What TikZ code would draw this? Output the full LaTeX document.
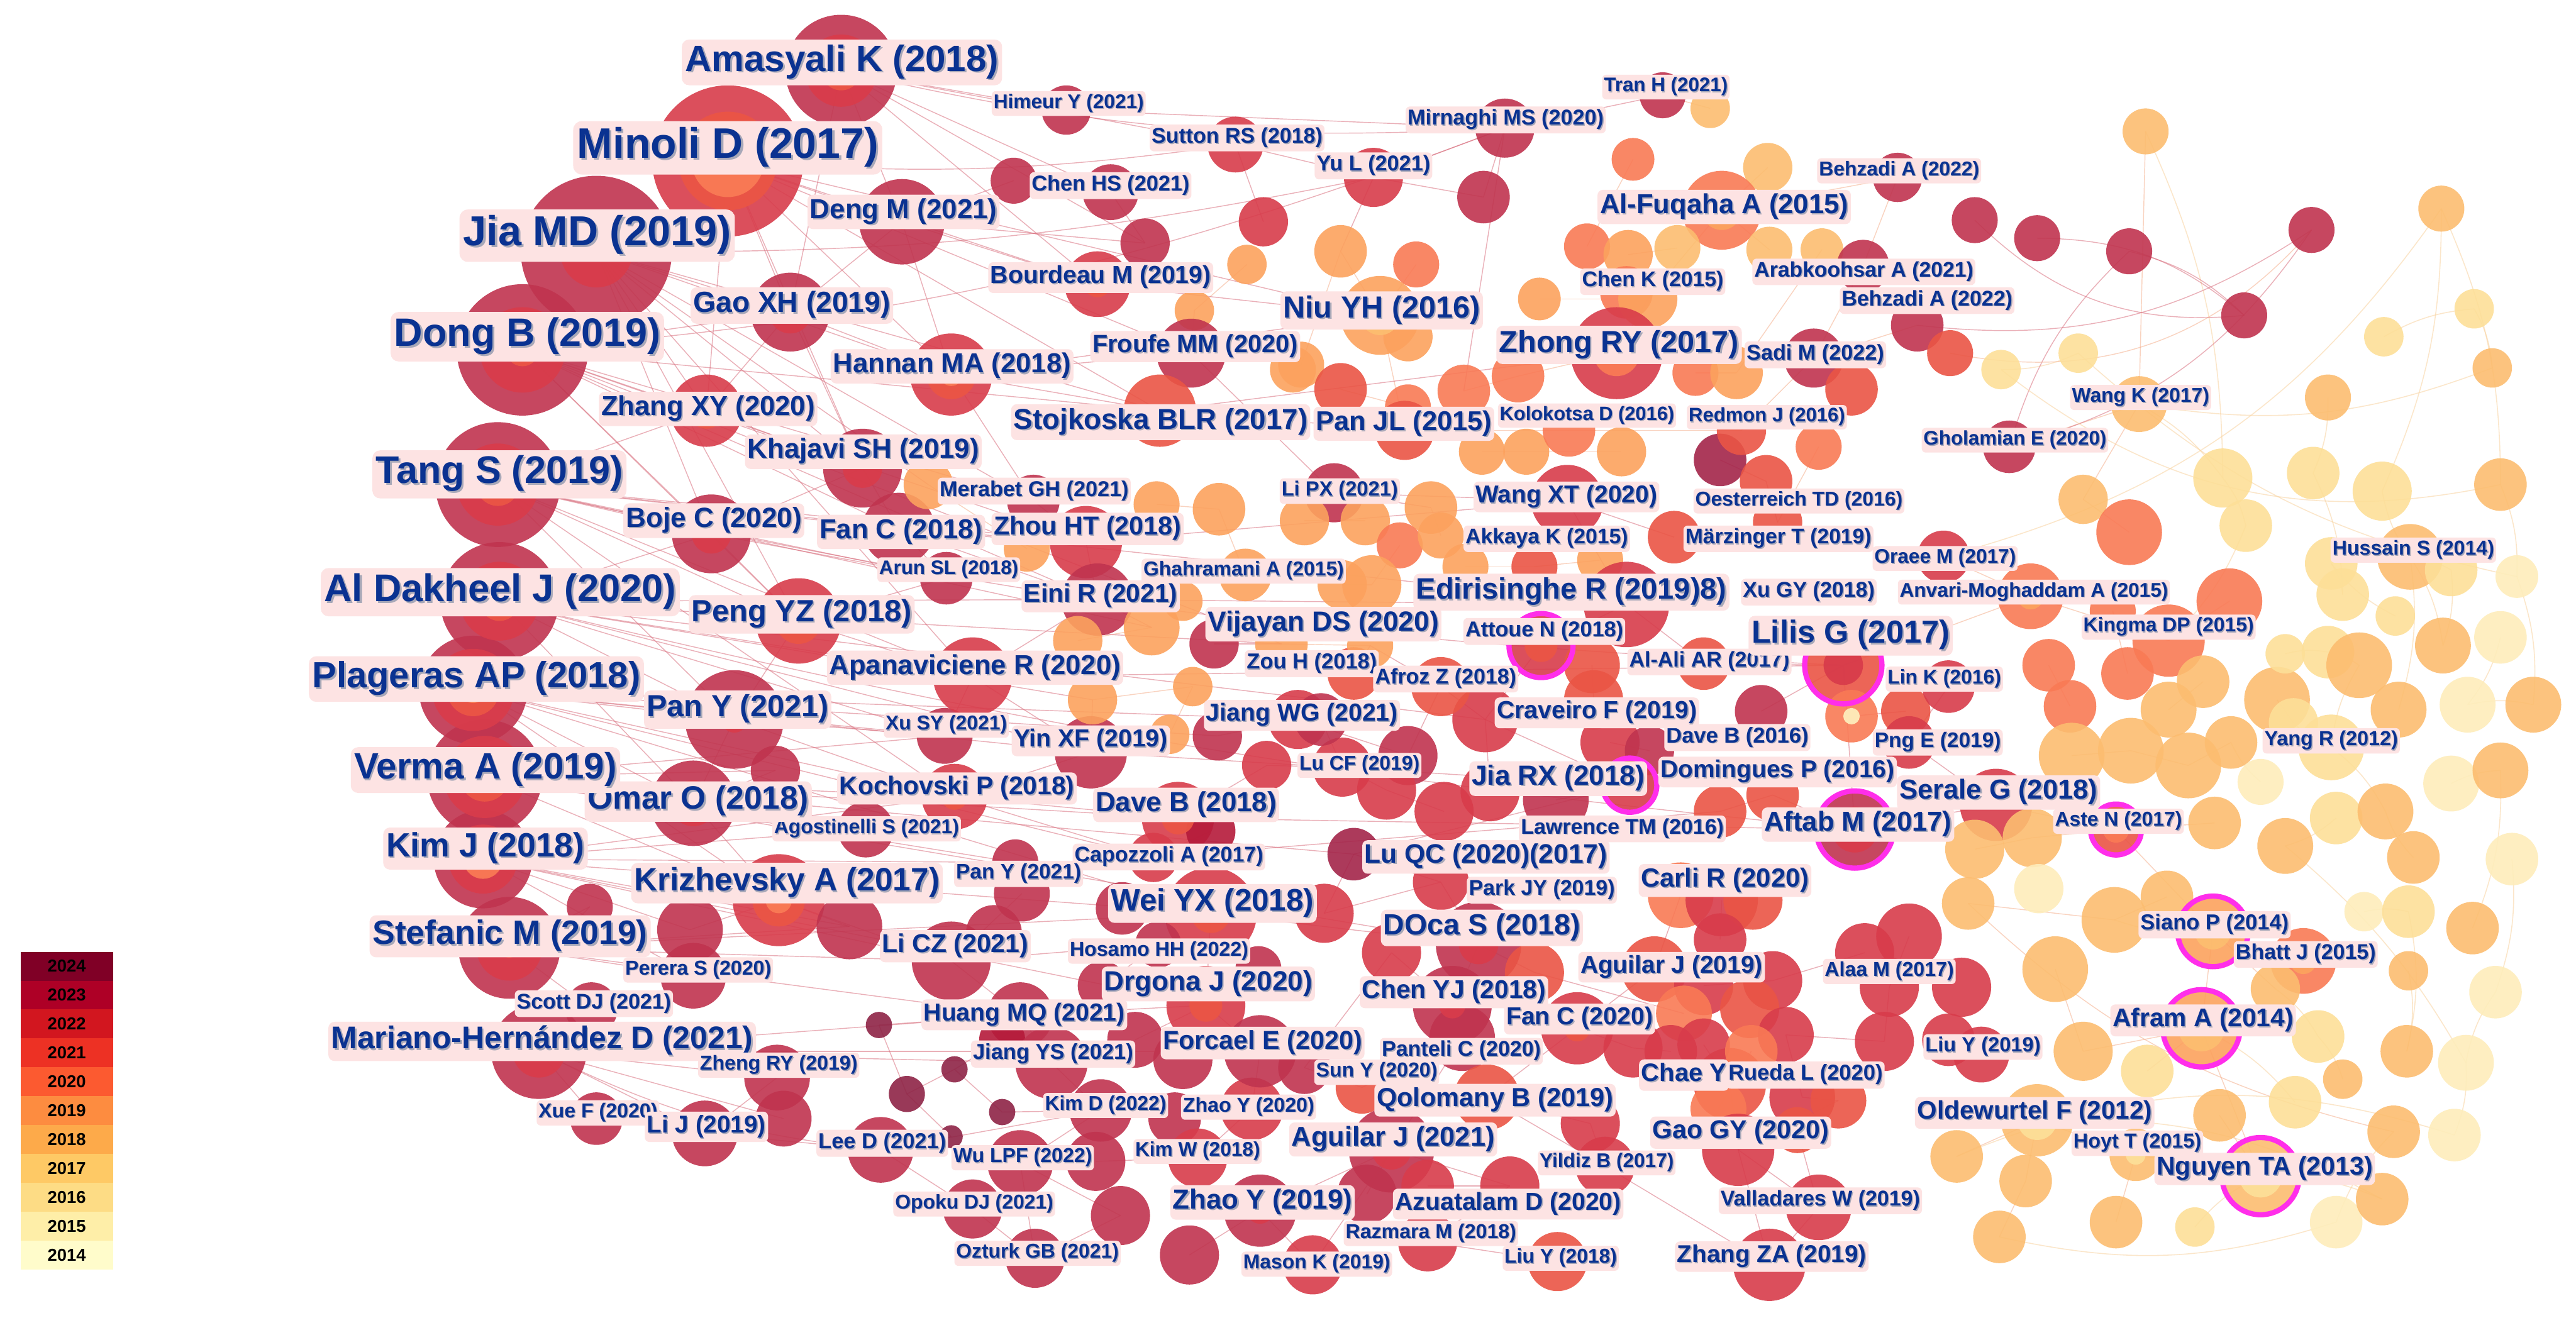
\documentclass[tikz,border=0pt]{standalone}
\usepackage{fontspec}
\newfontfamily\lbf{Liberation Sans}
\definecolor{cM}{HTML}{C0344F}
\definecolor{cMD}{HTML}{A4254A}
\definecolor{cDM}{HTML}{8E2446}
\definecolor{cDR}{HTML}{B51A3A}
\definecolor{cR}{HTML}{D83C4B}
\definecolor{cRO}{HTML}{EA5545}
\definecolor{cO}{HTML}{F97A55}
\definecolor{cLO}{HTML}{FCA25E}
\definecolor{cT}{HTML}{FCBD70}
\definecolor{cY}{HTML}{FDDF98}
\definecolor{cPY}{HTML}{FEEDBB}
\definecolor{lblbg}{HTML}{FDE3E3}
\definecolor{lbltx}{HTML}{0A3291}
\definecolor{lblsh}{HTML}{A8A8B8}
\definecolor{eRc}{HTML}{D9707F}
\definecolor{eOc}{HTML}{F5A983}
\definecolor{eYc}{HTML}{F9D3A0}
\definecolor{mag}{HTML}{FF2EEA}
\definecolor{lg2024}{HTML}{800026}
\definecolor{lg2023}{HTML}{AE0026}
\definecolor{lg2022}{HTML}{D2161F}
\definecolor{lg2021}{HTML}{ED3124}
\definecolor{lg2020}{HTML}{FC5A30}
\definecolor{lg2019}{HTML}{FD8C40}
\definecolor{lg2018}{HTML}{FDAA4A}
\definecolor{lg2017}{HTML}{FEC965}
\definecolor{lg2016}{HTML}{FDDC85}
\definecolor{lg2015}{HTML}{FEEEA8}
\definecolor{lg2014}{HTML}{FFFCCB}
\newcommand\shd[1]{\makebox[0pt][l]{\hspace{0.05em}\raisebox{-0.05em}{\textcolor{lblsh}{#1}}}#1}
\tikzset{
 eR/.style={draw=eRc, line width=0.55pt, draw opacity=0.55},
 eO/.style={draw=eOc, line width=0.55pt, draw opacity=0.5},
 eY/.style={draw=eYc, line width=0.6pt, draw opacity=0.55},
 lbl/.style={fill=lblbg, text=lbltx, anchor=center},
 magring/.style={draw=mag, line width=3.2pt},
}
\def\nodelist{
amas/512/43/34/cM,minoli/443/98/46/cR,jiamd/363/153/46/cM,dongb/318/213/40/cM,tangs/303/295/38/cM,
aldak/304/366/36/cM,plag/288/420/33/cM,verma/295/473/35/cM,kimj/294/523/30/cM,stef/310/577/31/cM,mariano/328/640/29/cM,
xuef/363/681/16/cM,scott/360/614/16/cM,c_l1/359/552/14/cM,perera/422/594/20/cM,krizh/474/548/28/cR,c_l2/420/566/20/cM,
c_l3/517/564/20/cM,licz/579/585/24/cM,licz2/605/568/17/cM,c_l4/622/544/17/cM,pansmall/618/525/14/cM,agost/527/505/17/cM,
omar/422/489/26/cM,c_l5/472/469/15/cM,pany/447/438/30/cM,xusy/575/448/17/cM,yinxf/664/458/22/cM,pengyz/486/378/26/cR,
apan/592/412/24/cR,arun/576/352/16/cM,fanc18/547/322/22/cM,boje/433/325/24/cM,khaj/525/285/24/cM,zhangxy/430/250/22/cR,
gaoxh/481/190/24/cM,dengm/549/135/26/cM,hannan/579/228/25/cR,chenhs1/617/110/14/cM,chenhs2/676/117/17/cM,c_t1/697/148/15/cM,
himeur/649/67/15/cM,sutton/752/88/17/cR,c_t2/769/135/15/cR,c_t3/759/161/12/cLO,c_t4/727/189/12/cLO,bourd/668/173/20/cR,
froufe/725/215/21/cM,stoj/706/250/22/cRO,c_t5/787/225/14/cLO,c_m1/565/295/15/cLO,merabet/629/305/16/cM,zhouht/661/330/22/cR,
c_m2/625/334/14/cLO,c_m3/704/307/14/cLO,c_m4/742/310/16/cLO,ghah/758/350/16/cLO,eini/668/365/22/cM,c_m5/656/390/15/cLO,
c_m6/701/382/17/cLO,c_m7/720/366/12/cLO,c_m8/739/392/15/cM,c_m9/665/426/15/cLO,c_m10/726/418/12/cLO,c_m11/712/447/12/cLO,
c_m12/741/448/15/cM,c_m13/771/466/15/cR,c_v1/780/392/16/cLO,jiangwg/790/438/18/cR,koch/581/485/20/cR,daveb18/717/498/22/cR,
c_m14/737/506/15/cDR,capoz/702/522/15/cR,weiyx/737/556/28/cR,c_b1/683/553/16/cM,hosamo/705/575/14/cM,c_b2/766/590/14/cM,
drgona/734/612/24/cR,c_b3/671/600/15/cM,huang/621/618/20/cM,c_b4/610/633/14/cDR,c_b5/640/647/22/cM,c_b6/691/633/17/cM,
d1/535/624/8/cDM,d2/581/651/8/cDM,d3/552/666/11/cDM,d4/610/677/8/cDM,d5/579/692/7/cDM,zhengry/473/656/20/cM,
c_b7/477/681/17/cM,lij/429/690/20/cM,leed/536/700/20/cM,wulpf/621/708/20/cM,c_b8/667/707/18/cM,kimd/670/676/19/cM,
c_b9/715/681/16/cM,kimw/729/705/18/cR,zhaoy20/762/675/19/cR,opoku/592/736/18/cM,c_b10/682/740/18/cM,ozturk/630/766/18/cM,
c_b11/724/764/18/cM,zhaoy19/767/737/22/cM,forcael/767/640/22/cM,c_b12/720/645/18/cM,
parkjy/877/537/17/cR,c_c1/806/556/18/cR,doca/900/575/26/cM,c_c2/847/580/18/cR,c_c3/934/592/18/cRO,carli1/1023/545/20/cO,
carli2/1048/548/22/cR,carli3/1067/548/18/cRO,c_c4/1007/590/20/cRO,c_c5/1037/600/18/cR,c_c6/1047/572/16/cR,c_c7/1079/597/18/cR,
c_c8/1065/614/18/cRO,c_c9/1025/617/17/cO,alaa1/1162/570/20/cR,alaa2/1135/580/18/cR,alaa3/1150/601/18/cR,alaa4/1147/634/18/cR,
c_c10/1087/630/17/cR,chenyj/884/612/24/cM,fanc20/960/626/22/cR,c_c11/994/638/18/cR,c_c12/1017/640/16/cR,chae1/1053/660/22/cRO,
c_c13/1037/636/16/cR,c_c14/1066/640/16/cO,c_c15/1097/668/20/cR,c_c16/1119/670/17/cRO,c_c17/1046/675/17/cO,gaogy/1058/700/22/cR,
c_c18/1094/688/14/cRO,panteli/890/632/20/cM,qolo/905/668/20/cRO,c_c19/968/684/18/cR,sun1/794/650/16/cM,sun2/829/662/16/cRO,
aguil21/847/700/26/cM,c_c20/832/727/18/cM,c_c21/869/722/16/cR,azua/919/722/18/cR,razm/869/756/18/cR,yildiz/977/710/18/cR,
liuy18/948/768/18/cRO,mason/799/770/18/cR,vallad/1107/735/20/cR,zhangza/1077/770/22/cR,
lipx/812/300/18/cM,c_u1/794/317/15/cLO,c_u2/831/317/15/cLO,c_u3/871/309/16/cLO,c_u4/852/332/14/cO,c_u5/877/326/14/cLO,
wangxt/954/305/22/cR,c_u6/902/275/14/cLO,c_u7/929/275/14/cLO,c_u8/987/275/15/cLO,c_u9/1047/280/16/cMD,c_u10/1075/293/16/cRO,
c_u11/1107/272/14/cO,c_u12/1019/327/16/cRO,c_u13/1082/318/15/cRO,c_u14/892/345/14/cLO,c_u15/934/345/14/cRO,c_u16/974/341/14/cLO,
c_u17/835/356/18/cLO,c_u18/817/356/15/cLO,edir/990/368/26/cR,attoue/938/393/20/cR,c_u19/969/405/17/cRO,c_u20/1037/404/16/cRO,
lilis/1122/405/24/cRO,c_u21/1127/436/16/cO,c_u22/1072/433/16/cM,c_u23/1160/433/15/cRO,crav/904/438/20/cR,c_u24/970/426/18/cRO,
c_u25/980/452/18/cR,c_u26/1004/457/15/cM,jiarx/992/478/17/cR,c_u27/947/487/20/cM,c_u28/907/482/18/cR,lucf1/857/460/18/cM,
lucf2/817/467/18/cR,lucf3/844/481/18/cR,afroz/877/418/18/cRO,c_u29/824/410/16/cRO,zouh/834/393/14/cLO,c_u30/804/438/16/cM,
luqc/824/520/16/cMD,c_u31/879/494/18/cR,lawr/1047/494/16/cRO,aftab/1129/505/24/cM,doming/1079/484/16/cRO,png/1162/452/16/cR,
tranh/1012/58/14/cM,c_p1/1041/66/12/cT,mirn/916/78/18/cM,yul/836/108/18/cR,c_p2/903/120/16/cM,c_p3/994/97/13/cO,
c_p4/1076/102/15/cT,behz1/1155/108/15/cM,alfuq/1048/128/24/cO,c_p5/816/153/16/cLO,c_p6/862/161/14/cO,c_p7/966/150/14/cO,
c_p8/991/155/15/cLO,c_p9/1021/151/14/cT,c_p10/1077/152/14/cT,c_p11/1109/152/13/cT,arab/1134/162/16/cM,c_p12/990/178/16/cO,
chenk/1003/182/18/cLO,c_p13/937/182/13/cLO,niu/840/192/24/cLO,c_p14/857/205/15/cLO,c_p15/792/222/14/cLO,c_p16/816/237/16/cRO,
c_p17/891/238/16/cO,c_p18/857/248/14/cO,zhong/984/215/28/cR,c_p19/924/229/16/cO,c_p20/1032/227/14/cO,c_p21/1057/227/16/cLO,
sadi/1104/218/18/cM,c_p22/1127/237/16/cRO,behz2/1167/198/16/cM,panjl/855/262/18/cRO,kolok/955/262/16/cO,redmon/1060/262/15/cRO,
c_q1/1306/80/14/cT,c_q2/1202/134/14/cM,c_q3/1240/145/14/cM,c_q4/1296/153/14/cM,c_q5/1407/140/14/cM,c_q6/1486/127/14/cT,
c_q7/1366/192/14/cM,c_q8/1506/188/12/cY,c_q9/1451/205/12/cY,c_q10/1517/224/12/cT,c_q11/1417/242/14/cT,c_q12/1265/215/12/cY,
c_q13/1218/225/12/cY,c_q14/1187/215/14/cRO,wangk/1302/246/17/cT,gholam/1223/272/16/cM,
c_r1/1268/304/15/cT,c_r2/1296/324/20/cO,c_r3/1183/339/16/cR,anvari/1236/363/20/cO,c_r4/1286/372/14/cO,c_r5/1357/366/20/cO,
kingma/1320/390/22/cO,c_r6/1247/405/16/cO,c_r7/1295/410/16/cO,c_r8/1260/430/16/cO,link/1186/418/16/cR,serale/1215/490/22/cR,
c_r9/1202/517/18/cT,c_r10/1237/510/18/cT,c_r11/1261/460/20/cT,c_r12/1297/457/20/cT,c_r13/1320/432/17/cT,c_r14/1341/415/16/cT,
c_r15/1332/466/20/cT,c_r16/1358/452/16/cT,c_r17/1386/426/20/cT,c_r18/1396/440/15/cY,aste/1288/505/16/cRO,c_r19/1348/501/16/cT,
c_r20/1376/476/14/cPY,c_r21/1353/291/18/cY,c_r22/1408/288/16/cY,c_r23/1450/299/18/cY,c_r24/1522/295/16/cT,c_r25/1367/320/16/cY,
hussain/1467/339/20/cT,c_r26/1419/343/16/cY,c_r27/1492/347/16/cY,c_r28/1532/351/13/cPY,c_r29/1426/362/16/cY,c_r30/1458/375/12/cY,
c_r31/1487/393/17/cT,c_r32/1522/388/16/cPY,c_r33/1391/398/12/cY,c_r34/1417/397/16/cY,c_r35/1436/405/20/cT,c_r36/1460/432/17/cT,
c_r37/1502/429/17/cPY,c_r38/1542/429/17/cT,yangr/1419/455/20/cY,c_r39/1492/477/17/cPY,c_r40/1522/469/17/cT,c_r41/1422/498/16/cY,
c_r42/1452/494/17/cT,c_r43/1391/515/17/cT,c_r44/1469/522/16/cT,c_r45/1529/523/16/cPY,
c_s1/1198/550/16/cT,c_s2/1241/541/15/cPY,c_s3/1287/560/20/cT,c_s4/1319/546/16/cT,siano/1347/567/22/cLO,bhatt/1402/585/20/cO,
c_s5/1385/602/15/cT,c_s6/1251/590/20/cT,c_s7/1194/601/18/cR,liuy19a/1186/633/16/cR,liuy19b/1206/642/17/cR,afram/1340/626/24/cLO,
c_s8/1268/640/18/cT,c_s9/1307/652/16/cY,c_s10/1411/631/16/cY,c_s11/1439/555/12/cPY,c_s12/1466/555/16/cY,c_s13/1505/565/16/cT,
c_s14/1466/591/12/cT,c_s15/1519/604/16/cPY,c_s16/1465/640/16/cT,c_s17/1426/657/12/cT,c_s18/1501/647/17/cPY,c_s19/1397/671/16/cY,
c_s20/1351/679/16/cT,oldew/1240/682/22/cT,hoyt/1300/703/16/cT,c_s21/1191/704/16/cT,c_s22/1233/719/16/cT,c_s23/1288/744/16/cT,
c_s24/1217/753/16/cT,nguyen/1376/716/24/cT,c_s25/1336/747/12/cY,c_s26/1422/744/16/cPY,c_s27/1450/730/16/cT,c_s28/1457/689/16/cT,
c_s29/1494/691/16/cPY}
\def\ringL{
amas/22/cR,amas/12/cRO,minoli/30/cRO,minoli/22/cO,jiamd/22/cR,jiamd/6/cRO,dongb/26/cR,dongb/10/cRO,tangs/25/cR,tangs/13/cRO,
aldak/24/cR,aldak/12/cRO,plag/25/cR,plag/16/cRO,plag/8/cO,verma/25/cR,verma/15/cRO,kimj/21/cR,kimj/12/cO,stef/20/cR,stef/6/cRO,
mariano/16/cR,mariano/5/cRO,gaoxh/13/cR,hannan/15/cRO,hannan/7/cO,zhangxy/11/cRO,khaj/12/cR,boje/12/cR,omar/14/cR,pany/8/cR,
pengyz/14/cRO,krizh/16/cRO,krizh/8/cO,dengm/5/cR,bourd/8/cRO,koch/8/cRO,daveb18/10/cRO,weiyx/12/cRO,weiyx/5/cO,drgona/10/cRO,
zhaoy19/8/cR,doca/12/cR,chenyj/8/cR,fanc20/8/cRO,aguil21/12/cR,alfuq/12/cLO,niu/12/cT,zhong/14/cO,zhong/6/cLO,anvari/8/cLO,
bhatt/8/cLO,oldew/12/cY,hoyt/6/cY,c_u21/5/cPY,aftab/14/cR,aste/8/cO,siano/11/cT,afram/14/cT,nguyen/13/cY,lilis/12/cR,attoue/10/cRO}
\def\magL{attoue/19.5,lilis/23.5,jiarx/16.5,aftab/23.5,aste/15.5,siano/21.5,afram/23.5,nguyen/23.5}
\def\redE{
amas/dengm,amas/himeur,amas/chenhs2,amas/bourd,amas/sutton,amas/gaoxh,
minoli/gaoxh,minoli/hannan,minoli/stoj,minoli/khaj,minoli/dengm,minoli/zhangxy,minoli/froufe,minoli/niu,
jiamd/zhangxy,jiamd/hannan,jiamd/pengyz,jiamd/apan,jiamd/khaj,jiamd/merabet,jiamd/boje,jiamd/stoj,
dongb/boje,dongb/khaj,dongb/fanc18,dongb/eini,dongb/zhouht,dongb/pengyz,dongb/stoj,dongb/c_v1,
tangs/pengyz,tangs/zhouht,tangs/koch,tangs/apan,tangs/arun,tangs/fanc18,tangs/pany,tangs/edir,
aldak/pany,aldak/apan,aldak/yinxf,aldak/c_v1,aldak/eini,aldak/xusy,aldak/omar,aldak/crav,
plag/omar,plag/xusy,plag/capoz,plag/weiyx,plag/koch,plag/c_m12,plag/krizh,plag/jiangwg,
verma/krizh,verma/agost,verma/koch,verma/daveb18,verma/luqc,verma/pansmall,verma/omar,verma/doca,
kimj/licz,kimj/perera,kimj/pansmall,kimj/drgona,kimj/c_l2,kimj/c_l3,kimj/weiyx,
stef/scott,stef/licz,stef/huang,stef/weiyx,stef/perera,stef/c_l1,
mariano/zhengry,mariano/lij,mariano/forcael,mariano/xuef,mariano/c_b5,mariano/huang,
dengm/chenhs1,dengm/bourd,dengm/gaoxh,dengm/hannan,dengm/c_t1,
gaoxh/hannan,gaoxh/zhangxy,gaoxh/khaj,hannan/stoj,hannan/froufe,hannan/merabet,hannan/niu,
zhangxy/khaj,khaj/fanc18,khaj/boje,boje/pengyz,boje/arun,fanc18/zhouht,fanc18/eini,fanc18/arun,
zhouht/merabet,zhouht/eini,zhouht/wangxt,pengyz/pany,pengyz/apan,pengyz/arun,apan/yinxf,apan/eini,apan/xusy,apan/lilis,
pany/omar,pany/xusy,pany/koch,omar/krizh,omar/agost,omar/c_l5,koch/daveb18,koch/capoz,koch/yinxf,
krizh/licz,krizh/c_l3,krizh/c_l2,licz/huang,licz/hosamo,licz/c_l4,huang/drgona,huang/c_b5,
drgona/forcael,forcael/zhaoy20,zhaoy20/kimw,kimd/wulpf,leed/opoku,wulpf/ozturk,opoku/ozturk,
zhengry/lij,lij/leed,weiyx/drgona,weiyx/doca,weiyx/c_b1,doca/chenyj,chenyj/panteli,panteli/aguil21,aguil21/azua,
aguil21/zhaoy19,zhaoy19/mason,azua/razm,razm/liuy18,qolo/fanc20,fanc20/c_c4,chae1/gaogy,gaogy/vallad,gaogy/zhangza,
zhangza/yildiz,yildiz/qolo,luqc/jiarx,jiarx/crav,crav/attoue,attoue/edir,edir/wangxt,wangxt/lipx,
jiangwg/lucf1,lucf1/afroz,afroz/zouh,luqc/parkjy,parkjy/doca,lilis/aftab,aftab/serale,
yinxf/jiarx,capoz/lawr,daveb18/aftab,eini/edir,stoj/zhong,stoj/panjl,bourd/niu,froufe/lipx,
himeur/mirn,sutton/yul,yul/mirn,mirn/c_p2,c_p2/yul,
d1/d3,d3/d2,d2/d4,d3/d5,d5/leed,d1/huang,d2/c_b4,kimd/d4,c_b5/kimd,huang/c_b4,c_b6/drgona,hosamo/c_b3,
doca/c_c3,c_c3/c_c9,fanc20/c_c11,c_c11/c_c12,chenyj/c_c2,c_c1/parkjy,aguil21/c_c20,c_c21/azua,sun1/sun2,sun2/panteli,
qolo/c_c19,c_c19/yildiz,carli1/c_c4,carli2/c_c6,c_c5/c_c7,c_c7/alaa2,alaa1/alaa3,alaa3/alaa4,alaa4/c_c10,c_c10/c_c15,
c_c15/c_c16,c_c16/gaogy,chae1/c_c13,c_c14/c_c17,c_c18/vallad,lawr/doming,doming/aftab,png/serale,link/png,c_u22/lilis,
c_u21/c_u23,crav/c_u28,c_u27/jiarx,c_u25/c_u26,c_u24/c_u19,lucf2/lucf3,lucf3/c_u31,c_u30/lucf2,c_u29/zouh,afroz/crav,
lipx/c_u3,wangxt/c_u12,edir/c_u20,c_u20/lilis,c_u10/c_u13,c_u9/c_u10,
mirn/tranh,mirn/c_p17,yul/c_p5,c_t2/sutton,c_t1/chenhs2,froufe/c_t4,zhangxy/tangs,
leed/kimd,ozturk/c_b10,c_b10/wulpf,c_b11/zhaoy19,kimw/c_b8,mason/aguil21,zhangza/vallad,c_b12/forcael,
luqc/c_c1,c_c2/sun1,capoz/c_m14,daveb18/c_m13,c_m13/lucf2,jiangwg/c_m12,c_m8/c_v1,c_m6/eini,c_m9/yinxf,
tangs/c_m6,aldak/c_m9,plag/yinxf,verma/xusy,kimj/koch,jiamd/c_m1,dongb/merabet,minoli/bourd,amas/c_t1,
stef/c_l3,mariano/c_b7,kimj/agost,verma/c_l5,jiamd/gaoxh,dongb/gaoxh,tangs/boje,aldak/boje,plag/pany}
\def\orE{
alfuq/chenk,alfuq/behz1,alfuq/c_p4,alfuq/c_p10,behz1/arab,arab/sadi,sadi/behz2,zhong/chenk,zhong/c_p19,
niu/panjl,niu/c_p5,niu/c_p6,panjl/kolok,kolok/redmon,redmon/sadi,c_p5/c_p15,c_p16/c_p18,c_p17/c_p19,tranh/c_p1,
c_p3/c_p7,c_p8/c_p9,chenk/c_p13,c_u6/c_u7,c_u7/c_u8,c_u1/c_u2,c_u14/c_u15,c_u16/c_u15,c_u17/c_u18,
lilis/anvari,anvari/kingma,kingma/c_r5,c_r1/c_r2,c_r3/anvari,c_r4/c_r7,c_r6/c_r8,serale/aste,aste/siano,
siano/afram,afram/nguyen,nguyen/hoyt,hoyt/oldew,oldew/c_s21,c_r9/c_r10,c_r11/c_r12,c_r13/c_r14,c_r15/c_r16,
c_r17/c_r18,aste/c_r19,c_s1/c_s3,c_s3/c_s4,siano/c_s5,bhatt/siano,c_s6/c_s8,c_s8/afram,c_s9/afram,oldew/c_s22,
c_s22/c_s24,c_s23/hoyt,c_s20/nguyen,gholam/wangk,wangk/c_r1,c_q1/wangk,c_r10/aste,c_r12/c_r15,
c_p11/c_p21,c_p20/c_p21,c_u11/c_u13,c_u3/c_u5,c_u4/c_u17,c_m1/c_m2,c_m3/c_m4,c_m5/c_m6,c_m9/c_m10,c_m10/c_m11,
c_t3/c_t4,c_t5/c_p15,ghah/c_m4,zouh/c_v1}
\def\yeE{
hussain/c_r23,hussain/c_r31,hussain/c_r36,yangr/c_r35,yangr/c_r42,c_r21/c_r25,c_q6/c_r24,wangk/c_r21,c_r22/c_r29,
c_r40/c_s13,c_s12/c_s16,c_s18/c_s29,c_r28/c_r38,siano/c_s3,afram/c_s19,nguyen/c_s27,c_s26/c_s28,c_r45/c_s15,
c_q8/c_q10,c_q9/c_q8,c_q12/c_q13,c_q11/c_r22,c_r26/c_r29,c_r27/c_r31,c_r32/c_r37,c_r33/c_r34,c_r34/c_r35,
c_r39/c_r40,c_r41/c_r43,c_r44/c_r42,c_s10/c_s17,c_s11/c_s12,c_s14/c_s16,c_s18/c_s15,c_s25/nguyen,c_r20/c_r16,
c_r30/c_r26,hussain/c_r27,c_r24/c_r28,c_q6/c_r23,c_r37/c_r38,c_q1/c_r21,c_r25/kingma,yangr/c_r18,c_s5/c_s10}
\def\curvE{
c_q2/c_q7/-25/eR,c_q3/c_q7/20/eR,c_q4/c_q7/15/eR,c_q5/gholam/20/eR,c_q4/gholam/-15/eR,behz2/c_q5/-20/eR,
c_q13/c_r24/-25/eY,c_q14/c_q5/-30/eO,c_s21/c_s29/20/eY,wangk/c_q10/-15/eY,c_r3/c_q6/-20/eY,c_q12/c_r28/-15/eY,
c_s1/c_s28/-15/eO,c_s24/c_s26/-15/eY,oldew/c_s27/15/eY,c_r43/c_s18/10/eY,
amas/mirn/-8/eR,minoli/sutton/-6/eR,tangs/lilis/-5/eR,aldak/aftab/-4/eR,jiamd/yul/-6/eR,dongb/mirn/-8/eR,
c_l1/stef/20/eR,xuef/lij/20/eR,mariano/leed/-10/eR}
\def\smallL{
68/650.5/63/12.1/Himeur Y (2021),69/753/84/13/Sutton RS (2018),70/676/113/13.1/Chen HS (2021),71/1014/53/12/Tran H (2021),
72/916.5/73/13.1/Mirnaghi MS (2020),73/836/101/13.1/Yu L (2021),74/1156/104/12.2/Behzadi A (2022),75/1006/171.5/12.9/Chen K (2015),
76/1134.5/165.5/12.9/Arabkoohsar A (2021),77/1173/183/13/Behzadi A (2022),78/1105/216/13.1/Sadi M (2022),79/1303/242/12.2/Wang K (2017),
80/966/253/11.8/Kolokotsa D (2016),81/1075.5/254/11.9/Redmon J (2016),82/1226.5/268/12/Gholamian E (2020),83/629.5/299/13.1/Merabet GH (2021),
84/815.5/299/12.5/Li PX (2021),85/1095/305/12.2/Oesterreich TD (2016),86/941.5/328/12.9/Akkaya K (2015),87/1082.5/328/12.9/Märzinger T (2019),
88/1184/340/12.1/Oraee M (2017),89/577.5/346.8/12/Arun SL (2018),90/757/347.7/12.2/Ghahramani A (2015),91/1101/360.5/13/Xu GY (2018),
92/1238/360.5/12.1/Anvari-Moghaddam A (2015),93/1469/334.9/12.3/Hussain S (2014),94/940/384.4/13.1/Attoue N (2018),95/1320/381.8/12.2/Kingma DP (2015),
96/798.5/404/13.2/Zou H (2018),97/880/413.4/13/Afroz Z (2018),98/1040.5/403/13/Al-Ali AR (2017),99/1183.5/413.4/12.2/Lin K (2016),
100/576/441.5/12.2/Xu SY (2021),101/1057.5/449/13.2/Dave B (2016),102/1179.5/452/12.8/Png E (2019),103/1419/451/12.4/Yang R (2012),
104/827.5/466/12.2/Lu CF (2019),105/527.5/504.6/12.2/Agostinelli S (2021),106/987.5/504.6/13/Lawrence TM (2016),107/1289.5/500/12.2/Aste N (2017),
108/711.5/521.7/13/Capozzoli A (2017),109/620/532/12.8/Pan Y (2021),110/938.5/541.9/13/Park JY (2019),111/425/590.5/12.3/Perera S (2020),
112/361.5/611/13/Scott DJ (2021),113/705.5/579/12.3/Hosamo HH (2022),114/1150/591.4/12.3/Alaa M (2017),115/1348/563/13.2/Siano P (2014),
116/1403.5/581/13/Bhatt J (2015),117/641/641.7/13.2/Jiang YS (2021),119/1207/637.4/12.5/Liu Y (2019),
120/889.5/640/13/Panteli C (2020),121/838/652.8/12.3/Sun Y (2020),122/760/674/12.3/Zhao Y (2020),123/673/673/12.2/Kim D (2022),
124/364/677.5/12.3/Xue F (2020),126/537/696/13.2/Lee D (2021),127/729/701/12.1/Kim W (2018),128/622.5/704.8/12.3/Wu LPF (2022),
129/978/708/12.1/Yildiz B (2017),130/1108/731/13/Valladares W (2019),131/1301/696/12.4/Hoyt T (2015),132/871/750.9/12.3/Razmara M (2018),
133/593/733/12.2/Opoku DJ (2021),134/801.5/769.6/12.2/Mason K (2019),135/950/766/12.2/Liu Y (2018),136/631.5/763/12.2/Ozturk GB (2021)}
\def\midL{
12/550/129/16.8/Deng M (2021),13/482/186/17.7/Gao XH (2019),14/579.5/223/16.7/Hannan MA (2018),15/431/249/16.7/Zhang XY (2020),
16/525.5/275/16.8/Khajavi SH (2019),17/434.5/317/16.9/Boje C (2020),18/548.5/323.8/16.7/Fan C (2018),19/662/322/15.8/Zhou HT (2018),
20/488/374/18.7/Peng YZ (2018),21/670/363/15.6/Eini R (2021),22/593.5/406.5/16.7/Apanaviciene R (2020),23/449/432/18.6/Pan Y (2021),
24/664/451/15/Yin XF (2019),25/425/488/19.7/Omar O (2018),26/582.5/480/15.6/Kochovski P (2018),27/722/490/16.8/Dave B (2018),
28/479/537.6/19.7/Krizhevsky A (2017),29/738/550/18.9/Wei YX (2018),30/581.5/576/15.7/Li CZ (2021),31/735.5/599/16.9/Drgona J (2020),
32/623.5/617.8/15/Huang MQ (2021),33/768.5/635/15.8/Forcael E (2020),34/848/693.7/16.6/Aguilar J (2021),35/768.5/732/16.8/Zhao Y (2019),
36/918/733/15/Azuatalam D (2020),37/910/669.8/15.9/Qolomany B (2019),38/885/604/15.6/Chen YJ (2018),39/902/564.9/17.8/DOca S (2018),
40/904.5/521.7/16.3/Lu QC (2020)(2017),41/948.5/474/16.9/Jia RX (2018),42/972/434/15/Craveiro F (2019),43/805.5/380/16.9/Vijayan DS (2020),
44/956.5/360.5/18/Edirisinghe R (2019)8),45/1126.5/387/19.4/Lilis G (2017),46/953.5/302.5/14.9/Wang XT (2020),47/706.5/257/17.5/Stojkoska BLR (2017),
48/854.5/258/16.6/Pan JL (2015),49/841/189/18.6/Niu YH (2016),50/985.5/210/18.6/Zhong RY (2017),51/1049.5/126/16.7/Al-Fuqaha A (2015),
52/670/169/15/Bourdeau M (2019),53/727.5/211/15.2/Froufe MM (2020),54/792.5/435.5/15/Jiang WG (2021),55/1082/470/14.9/Domingues P (2016),
56/1131/502/16.7/Aftab M (2017),57/1216.5/482.5/16.7/Serale G (2018),58/1050/536/16/Carli R (2020),59/1017.5/588.8/14.9/Aguilar J (2019),
60/961.5/620.4/15/Fan C (2020),61/1025/654.5/15.3/Chae Y,62/1099/654.5/13.2/Rueda L (2020),63/1059.5/689.5/15.7/Gao GY (2020),
64/1078.5/765/14.8/Zhang ZA (2019),65/1341/621.2/15.6/Afram A (2014),66/1238.5/677.5/15.5/Oldewurtel F (2012),67/1378.5/711.6/15.7/Nguyen TA (2013),
125/430/686/14.8/Li J (2019)}
\def\bigL{
1/512.5/38/22.3/Amasyali K (2018),2/443/90/26/Minoli D (2017),3/363.5/143.5/25.5/Jia MD (2019),4/321/205/24.1/Dong B (2019),
5/304/288.8/23.4/Tang S (2019),6/304.5/360.5/23.5/Al Dakheel J (2020),7/290/413.4/22.2/Plageras AP (2018),8/295.5/468.8/22.3/Verma A (2019),
9/295.5/516.6/20.5/Kim J (2018),10/310.5/570/20.5/Stefanic M (2019),11/330/634/19.1/Mariano-Hernández D (2021)}
\def\topL{118/474/648.5/12.3/Zheng RY (2019)}
\newcommand\drawlabels[1]{%
\foreach \Nm/\X/\Y/\Sz/\Tx [evaluate=\Sz as \Bs using 1.18*\Sz, evaluate=\Sz as \Px using 0.09*\Sz, evaluate=\Sz as \Py using 0.035*\Sz, evaluate=\Sz as \Rc using 0.2*\Sz] in #1 {
 \node[lbl, font=\lbf\bfseries\fontsize{\Sz}{\Bs}\selectfont, inner xsep=\Px pt, inner ysep=\Py pt, rounded corners=\Rc pt] (L\Nm) at (\X,\Y) {\strut\shd{\Tx}};
}}
\begin{document}
\begin{tikzpicture}[x=1pt,y=-1pt]
\useasboundingbox (0,0) rectangle (1568,802);
\fill[white] (0,0) rectangle (1568,802);
\foreach \N/\X/\Y/\R/\C in \nodelist {\coordinate (\N) at (\X,\Y);}
\foreach \A/\B in \yeE {\draw[eY] (\A) to[bend left=12] (\B);}
\foreach \A/\B in \orE {\draw[eO] (\A) -- (\B);}
\foreach \A/\B in \redE {\draw[eR] (\A) -- (\B);}
\foreach \A/\B/\K/\St in \curvE {\draw[\St] (\A) to[bend left=\K] (\B);}
\foreach \N/\X/\Y/\R/\C in \nodelist {\fill[\C, fill opacity=0.9] (\N) circle [radius=\R pt];}
\foreach \N/\R/\C in \ringL {\fill[\C, fill opacity=0.95] (\N) circle [radius=\R pt];}
\foreach \N/\R in \magL {\draw[magring] (\N) circle [radius=\R pt];}
\drawlabels{\smallL}
\drawlabels{\midL}
\drawlabels{\bigL}
\drawlabels{\topL}
\foreach \i/\yr in {0/2024,1/2023,2/2022,3/2021,4/2020,5/2019,6/2018,7/2017,8/2016,9/2015,10/2014} {
 \fill[lg\yr] (12.5,{579.4+17.6*\i}) rectangle (68.75,{597.0+17.6*\i});
 \node[font=\lbf\bfseries\fontsize{10.5}{12}\selectfont, text=black, inner sep=0pt] (leg\yr) at (40.6,{588.2+17.6*\i}) {\yr};
}
\end{tikzpicture}
\end{document}
